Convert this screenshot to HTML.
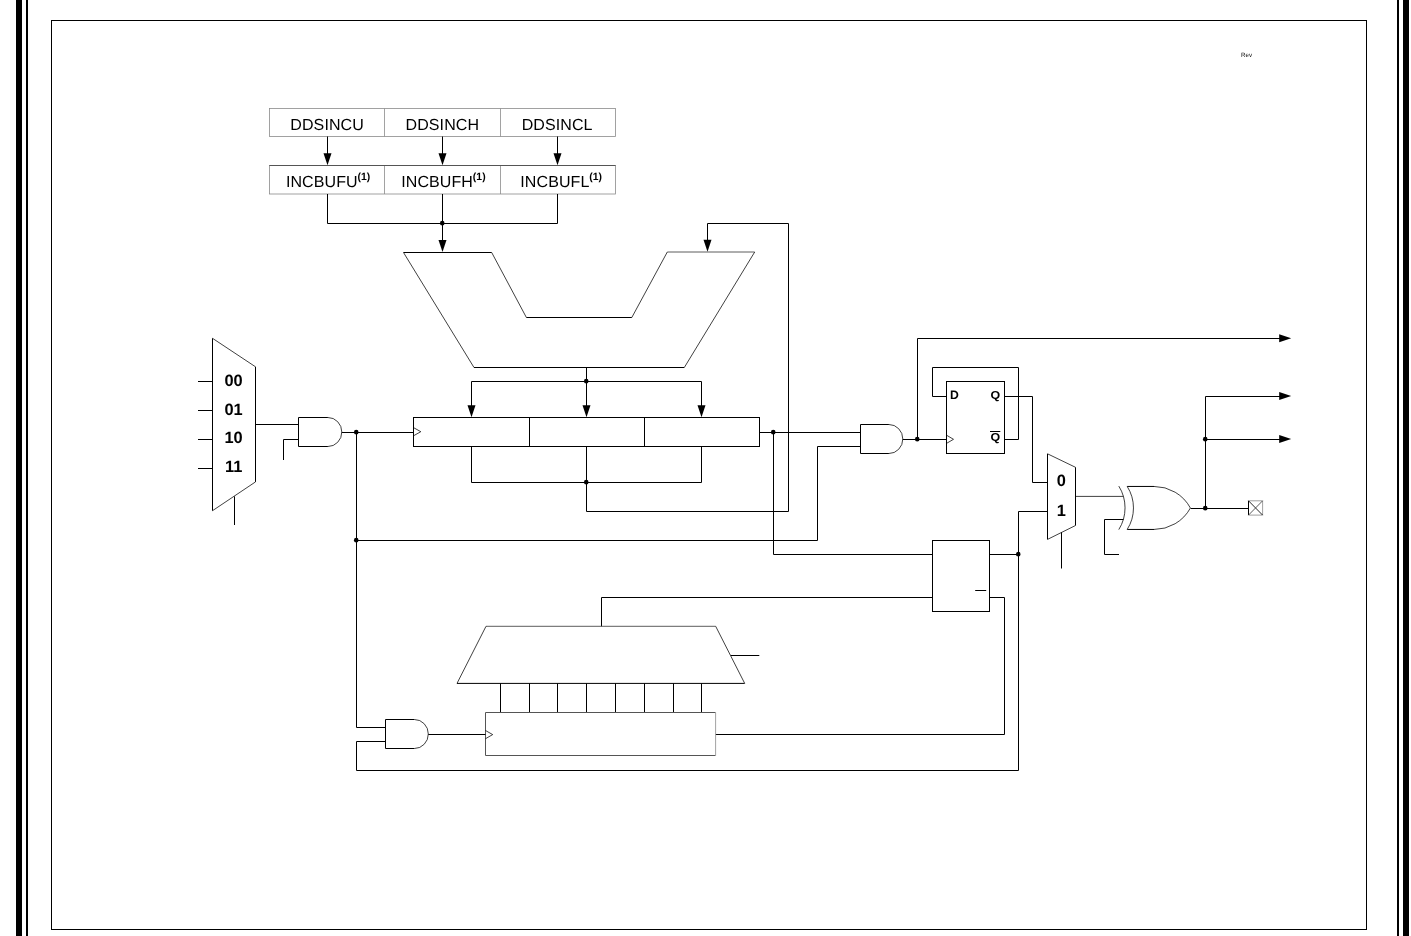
<!DOCTYPE html>
<html><head><meta charset="utf-8"><title>DDS block diagram</title>
<style>
html,body{margin:0;padding:0;background:#fff}
svg{display:block;will-change:transform}
.w{fill:none;stroke:#000;stroke-width:1}
.t{fill:none;stroke:#000;stroke-width:.75}
.g{fill:none;stroke:#8a8a8a;stroke-width:.8}
.gd{fill:none;stroke:#555;stroke-width:1}
.g3{fill:none;stroke:#777;stroke-width:.7}
.w9{fill:none;stroke:#000;stroke-width:.85}
.g2{fill:none;stroke:#333;stroke-width:.8}
.d{fill:#000;stroke:none}
text{font-family:"Liberation Sans",sans-serif;fill:#000;text-rendering:geometricPrecision}
.lab{font-size:16px;letter-spacing:.1px}
.sup{font-size:10.4px;font-weight:bold;letter-spacing:.1px}
.b15{font-size:16.4px;font-weight:bold}
.b11{font-size:11.5px;font-weight:bold}
.b12{font-size:12.2px;font-weight:bold}
.rev{font-size:6.2px;fill:#111}
</style></head><body>
<svg width="1411" height="936" viewBox="0 0 1411 936">
<rect class="d" x="16" y="0" width="6" height="936"/>
<rect class="d" x="26" y="0" width="2" height="936"/>
<rect class="d" x="1397" y="0" width="2" height="936"/>
<rect class="d" x="1403" y="0" width="6" height="936"/>
<rect class="w" x="51.5" y="20.5" width="1315" height="909"/>
<text class="rev" x="1241" y="57" text-anchor="start">Rev</text>
<rect class="g" x="269.5" y="108.5" width="346.0" height="28.0"/>
<path class="g" d="M384.5 108.5 L384.5 136.5"/>
<path class="g" d="M500.5 108.5 L500.5 136.5"/>
<rect class="g" x="269.5" y="165.5" width="346.0" height="28.5"/>
<path class="g" d="M384.5 165.5 L384.5 194"/>
<path class="g" d="M500.5 165.5 L500.5 194"/>
<path class="gd" d="M269.5 165.5 L615.5 165.5"/>
<text class="lab" x="327.1" y="129.5" text-anchor="middle">DDSINCU</text>
<text class="lab" x="285.9" y="187.3" text-anchor="start">INCBUFU<tspan class="sup" dx="-0.3" dy="-7.3">(1)</tspan></text>
<path class="w" d="M327.5 136.5 L327.5 155"/>
<path class="d" d="M323.5 153.3 L331.5 153.3 L327.5 165.3 Z"/>
<text class="lab" x="442.3" y="129.5" text-anchor="middle">DDSINCH</text>
<text class="lab" x="401.2" y="187.3" text-anchor="start">INCBUFH<tspan class="sup" dx="-0.3" dy="-7.3">(1)</tspan></text>
<path class="w" d="M442.5 136.5 L442.5 155"/>
<path class="d" d="M438.5 153.3 L446.5 153.3 L442.5 165.3 Z"/>
<text class="lab" x="557.1" y="129.5" text-anchor="middle">DDSINCL</text>
<text class="lab" x="520.3" y="187.3" text-anchor="start">INCBUFL<tspan class="sup" dx="-0.3" dy="-7.3">(1)</tspan></text>
<path class="w" d="M557.5 136.5 L557.5 155"/>
<path class="d" d="M553.5 153.3 L561.5 153.3 L557.5 165.3 Z"/>
<path class="w" d="M327.5 194 L327.5 223.5 L557.5 223.5 L557.5 194"/>
<path class="w" d="M442.5 194 L442.5 242"/>
<circle class="d" cx="442.25" cy="223.15" r="2.3"/>
<path class="d" d="M438.5 240 L446.5 240 L442.5 252 Z"/>
<path class="w" d="M403.5 252.5 L491.7 252.5"/>
<path class="g2" d="M667.3 252 L754.7 252"/>
<path class="t" d="M491.7 252.5 L526.4 317.5"/>
<path class="w" d="M526.4 317.5 L631.8 317.5"/>
<path class="t" d="M631.8 317.5 L667.3 252"/>
<path class="t" d="M754.7 252 L684.3 367.5"/>
<path class="w" d="M684.3 367.5 L474 367.5"/>
<path class="t" d="M474 367.5 L403.5 252.5"/>
<path class="w" d="M707.5 242 L707.5 223.5 L788.5 223.5 L788.5 511.5 L586.5 511.5 L586.5 446.5"/>
<path class="d" d="M703.5 239.7 L711.5 239.7 L707.5 251.7 Z"/>
<path class="w" d="M586.5 367.5 L586.5 407"/>
<path class="w" d="M471.5 407 L471.5 381.5 L701.5 381.5 L701.5 407"/>
<circle class="d" cx="586.25" cy="381.15" r="2.3"/>
<path class="d" d="M467.5 405.3 L475.5 405.3 L471.5 417.3 Z"/>
<path class="d" d="M582.5 405.3 L590.5 405.3 L586.5 417.3 Z"/>
<path class="d" d="M697.5 405.3 L705.5 405.3 L701.5 417.3 Z"/>
<rect class="w" x="413.5" y="417.5" width="346" height="29"/>
<path class="w" d="M529.5 417.5 L529.5 446.5"/>
<path class="w" d="M644.5 417.5 L644.5 446.5"/>
<path class="t" d="M413.5 427.6 L420.8 431.7 L413.5 435.8"/>
<path class="w" d="M471.5 446.5 L471.5 482.5 L701.5 482.5 L701.5 446.5"/>
<circle class="d" cx="586.25" cy="482.15" r="2.3"/>
<path class="t" d="M212.5 338.3 L255.5 366.8"/>
<path class="t" d="M255.5 481.9 L212.5 510.7"/>
<path class="w" d="M212.5 338.3 L212.5 510.7"/>
<path class="w" d="M255.5 366.8 L255.5 481.9"/>
<path class="w" d="M198 381.5 L212.5 381.5"/>
<text class="b15" x="233.6" y="385.7" text-anchor="middle">00</text>
<path class="w" d="M198 410.5 L212.5 410.5"/>
<text class="b15" x="233.6" y="414.7" text-anchor="middle">01</text>
<path class="w" d="M198 439.5 L212.5 439.5"/>
<text class="b15" x="233.6" y="442.7" text-anchor="middle">10</text>
<path class="w" d="M198 468.5 L212.5 468.5"/>
<text class="b15" x="233.6" y="471.7" text-anchor="middle">11</text>
<path class="w" d="M234.5 496.4 L234.5 525"/>
<path class="w" d="M255.5 424.5 L298.5 424.5"/>
<path class="w" d="M327.90000000000003 417.5 L298.5 417.5 L298.5 446.5 L327.90000000000003 446.5"/>
<path class="t" d="M327.90000000000003 417.5 A13.9 14.5 0 0 1 327.90000000000003 446.5"/>
<path class="w" d="M298.5 439.5 L283.5 439.5 L283.5 460"/>
<path class="w" d="M341.8 432.5 L413.5 432.5"/>
<circle class="d" cx="356.25" cy="432.15" r="2.3"/>
<path class="w" d="M356.5 432.5 L356.5 727.5 L385.5 727.5"/>
<circle class="d" cx="356.25" cy="540.15" r="2.3"/>
<path class="w" d="M356.5 540.5 L817.5 540.5 L817.5 446.5 L860.5 446.5"/>
<path class="w" d="M759.5 432.5 L860.5 432.5"/>
<circle class="d" cx="773.25" cy="432.15" r="2.3"/>
<path class="w" d="M773.5 432.5 L773.5 554.5 L932.5 554.5"/>
<path class="w" d="M888.9 424.5 L860.5 424.5 L860.5 453.5 L888.9 453.5"/>
<path class="t" d="M888.9 424.5 A13.9 14.5 0 0 1 888.9 453.5"/>
<path class="w" d="M902.8 439.5 L946.5 439.5"/>
<circle class="d" cx="917.25" cy="439.15" r="2.3"/>
<path class="w" d="M917.5 439.5 L917.5 338.5 L1280 338.5"/>
<path class="d" d="M1279.2 334.15 L1279.2 342.15 L1291.2 338.15 Z"/>
<rect class="w" x="946.5" y="381.5" width="58" height="72"/>
<path class="w" d="M946.5 396.5 L932.5 396.5 L932.5 367.5 L1018.5 367.5 L1018.5 439.5 L1004.5 439.5"/>
<path class="w" d="M1004.5 396.5 L1032.5 396.5 L1032.5 482.5 L1047.5 482.5"/>
<path class="t" d="M946.5 435.2 L953.5 439.3 L946.5 443.4"/>
<text class="b12" x="950.1" y="398.7" text-anchor="start">D</text>
<text class="b11" transform="translate(990.5 399.2) scale(1.08 1)" text-anchor="start">Q</text>
<text class="b11" transform="translate(990.5 441.3) scale(1.08 1)" text-anchor="start">Q</text>
<path class="w" d="M990 431.5 L1000.3 431.5"/>
<path class="t" d="M1047.5 453.8 L1075.5 467.3"/>
<path class="t" d="M1075.5 525.5 L1047.5 539.4"/>
<path class="w" d="M1047.5 453.8 L1047.5 539.4"/>
<path class="w" d="M1075.5 467.3 L1075.5 525.5"/>
<text class="b15" x="1061.2" y="485.6" text-anchor="middle">0</text>
<text class="b15" x="1061.2" y="515.5" text-anchor="middle">1</text>
<path class="w" d="M1061.5 532.3 L1061.5 568.5"/>
<path class="w" d="M1047.5 511.5 L1018.5 511.5"/>
<path class="t" d="M1075.5 496.4 L1123.5 496.4"/>
<path class="t" d="M1118.8 486.1 A41 41 0 0 1 1118.8 529.6"/>
<path class="t" d="M1127.2 486.45 A40 40 0 0 1 1127.2 529.45"/>
<path class="w" d="M1127.2 486.45 L1154 486.45 M1127.2 529.45 L1154 529.45"/>
<path class="t" d="M1154 486.45 A41.3 41.3 0 0 1 1190.4 508 A41.3 41.3 0 0 1 1154 529.45"/>
<path class="w" d="M1123.5 519.5 L1104.5 519.5 L1104.5 554.5 L1119 554.5"/>
<path class="w" d="M1190.7 508.5 L1248.5 508.5"/>
<circle class="d" cx="1205.25" cy="508.15" r="2.3"/>
<path class="w" d="M1205.5 508.5 L1205.5 396.5 L1280 396.5"/>
<path class="d" d="M1279.2 391.9 L1279.2 399.9 L1291.2 395.9 Z"/>
<path class="w" d="M1205.5 439.5 L1280 439.5"/>
<circle class="d" cx="1205.25" cy="439.15" r="2.3"/>
<path class="d" d="M1279.2 435.0 L1279.2 443.0 L1291.2 439.0 Z"/>
<path class="g3" d="M1248.5 500.8 L1262.6 500.8 L1262.6 515.1 L1248.5 515.1"/>
<path class="w" d="M1248.5 500.8 L1248.5 515.1"/>
<path class="w9" d="M1248.5 500.8 L1262.6 515.1"/>
<path class="g2" d="M1262.6 500.8 L1248.5 515.1"/>
<rect class="w" x="932.5" y="540.5" width="57" height="71"/>
<path class="w" d="M989.5 554.5 L1018.5 554.5"/>
<circle class="d" cx="1018.25" cy="554.15" r="2.3"/>
<path class="w" d="M1018.5 511.5 L1018.5 770.5 L356.5 770.5 L356.5 741.5 L385.5 741.5"/>
<path class="w" d="M975.2 590.5 L986.2 590.5"/>
<path class="w" d="M932.5 597.5 L601.5 597.5 L601.5 626.3"/>
<path class="w" d="M989.5 597.5 L1004.5 597.5 L1004.5 734.5 L715.7 734.5"/>
<path class="g2" d="M486 626.3 L715.7 626.3"/>
<path class="t" d="M715.7 626.3 L744.7 683.4"/>
<path class="w" d="M744.7 683.4 L457 683.4"/>
<path class="t" d="M457 683.4 L486 626.3"/>
<path class="w" d="M731 655.5 L759.3 655.5"/>
<path class="w" d="M500.5 683.4 L500.5 712.4"/>
<path class="w" d="M529.5 683.4 L529.5 712.4"/>
<path class="w" d="M557.5 683.4 L557.5 712.4"/>
<path class="w" d="M586.5 683.4 L586.5 712.4"/>
<path class="w" d="M615.5 683.4 L615.5 712.4"/>
<path class="w" d="M644.5 683.4 L644.5 712.4"/>
<path class="w" d="M673.5 683.4 L673.5 712.4"/>
<path class="w" d="M701.5 683.4 L701.5 712.4"/>
<path class="gd" d="M715.5 712.5 L485.5 712.5 L485.5 755.5 L715.5 755.5"/>
<path class="g" d="M715.6 712.5 L715.6 755.5"/>
<path class="t" d="M485.5 730.5 L492.7 734.6 L485.5 738.7"/>
<path class="w" d="M414.40000000000003 719.5 L385.5 719.5 L385.5 748.5 L414.40000000000003 748.5"/>
<path class="t" d="M414.40000000000003 719.5 A13.9 14.5 0 0 1 414.40000000000003 748.5"/>
<path class="w" d="M428.3 734.5 L485.5 734.5"/>
</svg>
</body></html>
